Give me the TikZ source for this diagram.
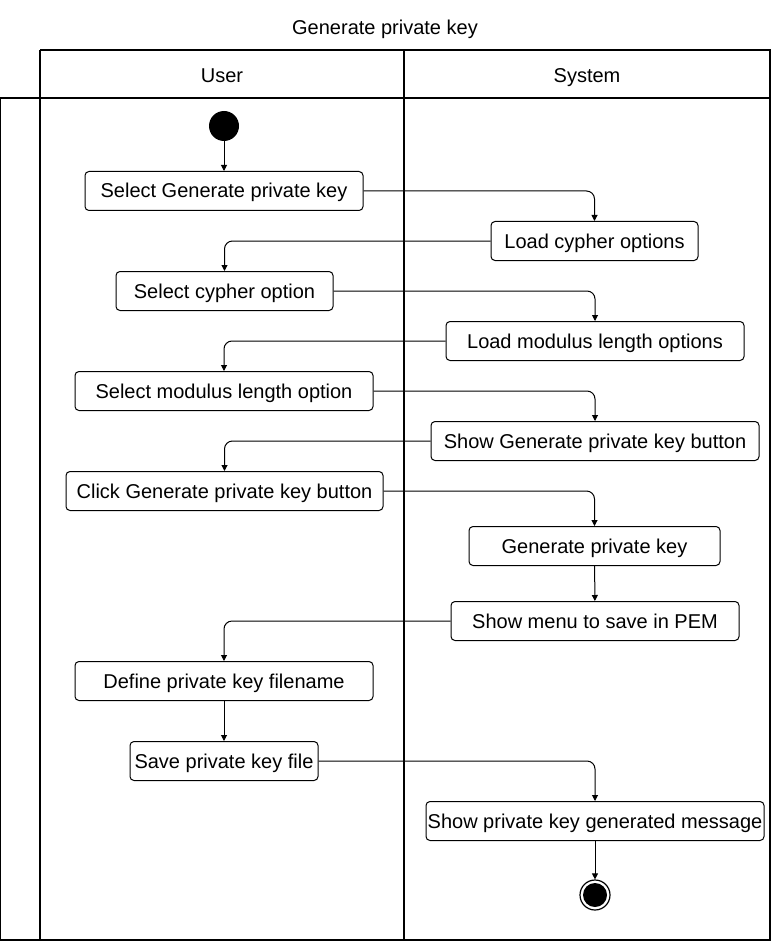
\documentclass[tikz,border=0pt]{standalone}
\usepackage{fontspec}
\setmainfont{Liberation Sans}
\usetikzlibrary{arrows.meta}

\tikzset{
  act/.style={draw, rounded corners=3pt, minimum height=29.25pt, inner sep=0.75pt, line width=0.75pt, text height=12pt, text depth=1.5pt, font=\fontsize{15}{18}\selectfont},
  flow/.style={draw, line width=0.75pt, rounded corners=6pt, -{Triangle[length=4.5pt,width=4.5pt]}},
  lane/.style={line width=1pt},
  lbl/.style={inner sep=0.75pt, text height=12pt, text depth=1.5pt, font=\fontsize{15}{18}\selectfont},
}

\begin{document}
\begin{tikzpicture}[x=0.75pt,y=0.75pt,yscale=-1,xscale=1]
            \useasboundingbox (0,0) rectangle (771,941);
            %Pool and lanes
            \draw [lane] (40,50) -- (770,50) -- (770,940) -- (0,940) -- (0,98) -- (770,98) ;
            \draw [lane] (40,50) -- (40,940) ;
            \draw [lane] (404,50) -- (404,940) ;

            % Text Node
            \node (title) at (385,28) [lbl] {Generate private key};
            % Text Node
            \node (user) at (222,76) [lbl] {User};
            % Text Node
            \node (system) at (587,76) [lbl] {System};

            %Start and end
            \node (start) at (224,126) [circle, fill=black, minimum size=22.5pt, inner sep=0pt] {};
            \node (finish) at (595,895) [circle, draw, line width=0.9pt, minimum size=22.5pt, inner sep=0pt] {};
            \fill (finish.center) circle (9pt) ;

            %Actions of the user
            \node (selgen) at (224,191) [act, minimum width=208.5pt] {Select Generate private key};
            \node (selcyph) at (224.5,291) [act, minimum width=162.75pt] {Select cypher option};
            \node (selmod) at (224,391) [act, minimum width=223.5pt] {Select modulus length option};
            \node (clickbtn) at (224.5,491) [act, minimum width=237.75pt] {Click Generate private key button};
            \node (defname) at (224,681) [act, minimum width=223.5pt] {Define private key filename};
            \node (savefile) at (224,761) [act, minimum width=141pt] {Save private key file};

            %Actions of the system
            \node (loadcyph) at (594.5,241) [act, minimum width=155.25pt] {Load cypher options};
            \node (loadmod) at (595,341) [act, minimum width=223.5pt] {Load modulus length options};
            \node (showbtn) at (595,441) [act, minimum width=246pt] {Show Generate private key button};
            \node (genkey) at (594.5,546) [act, minimum width=188.25pt] {Generate private key};
            \node (savemenu) at (595,621) [act, minimum width=216pt] {Show menu to save in PEM};
            \node (genmsg) at (595,821) [act, minimum width=253.5pt] {Show private key generated message};

            %Flow
            \draw [flow] (start) -- (selgen) ;
            \draw [flow] (selgen.east) -| (loadcyph.north) ;
            \draw [flow] (loadcyph.west) -| (selcyph.north) ;
            \draw [flow] (selcyph.east) -| (loadmod.north) ;
            \draw [flow] (loadmod.west) -| (selmod.north) ;
            \draw [flow] (selmod.east) -| (showbtn.north) ;
            \draw [flow] (showbtn.west) -| (clickbtn.north) ;
            \draw [flow] (clickbtn.east) -| (genkey.north) ;
            \draw [flow] (genkey) -- (savemenu) ;
            \draw [flow] (savemenu.west) -| (defname.north) ;
            \draw [flow] (defname) -- (savefile) ;
            \draw [flow] (savefile.east) -| (genmsg.north) ;
            \draw [flow] (genmsg) -- (finish) ;
\end{tikzpicture}
\end{document}
